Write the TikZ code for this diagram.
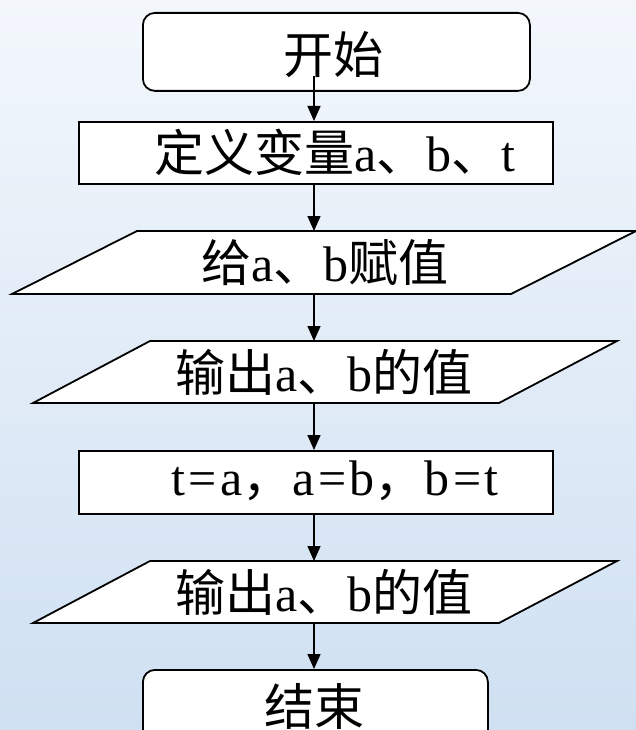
\documentclass[tikz,border=0pt]{standalone}
\usepackage{fontspec}
\setmainfont[LetterSpace=7]{Liberation Serif}
\newfontfamily\cjk{Noto Sans CJK SC}
\usetikzlibrary{arrows.meta}
\definecolor{bgtop}{HTML}{F3F7FC}
\definecolor{bgbot}{HTML}{CFE0F2}
\begin{document}
\begin{tikzpicture}[x=1pt,y=-1pt,
  shapeline/.style={draw=black, line width=1.8pt, fill=white},
  termbox/.style={shapeline, rounded corners=12pt, inner sep=0pt, anchor=north west},
  procbox/.style={shapeline, inner sep=0pt, anchor=north west},
  iobox/.style={shapeline, line join=miter},
  label/.style={font=\fontsize{50}{50}\selectfont, inner sep=0pt, anchor=center},
  flow/.style={line width=1.5pt, -{Triangle[length=15pt,width=13pt]}}]
\useasboundingbox (0,0) rectangle (636,730);
\clip (0,0) rectangle (636,730);
\shade[top color=bgtop, bottom color=bgbot] (0,0) rectangle (636,730);

% shapes
\node[termbox, minimum width=387pt, minimum height=78pt] (start) at (142,12) {};
\node[procbox, minimum width=474pt, minimum height=62pt] (define) at (78,121) {};
\draw[iobox] (12,294) -- (511,294) -- (636,231) -- (137,231) -- cycle;
\draw[iobox] (33,403) -- (499,403) -- (617,341) -- (150,341) -- cycle;
\node[procbox, minimum width=474pt, minimum height=63pt] (swap) at (78,450) {};
\draw[iobox] (33,623) -- (499,623) -- (617,561) -- (150,561) -- cycle;
\node[termbox, minimum width=345pt, minimum height=90pt] (stop) at (142,669) {};

% texts
\node[label] (t1) at (333,55) {\cjk 开始};
\node[label] (t2) at (335,152) {{\cjk 定义变量}a{\cjk 、}b{\cjk 、}t};
\node[label] (t3) at (325,263) {{\cjk 给}a{\cjk 、}b{\cjk 赋值}};
\node[label] (t4) at (324,372) {{\cjk 输出}a{\cjk 、}b{\cjk 的值}};
\node[label] (t5) at (335,481) {t=a{\cjk ，}a=b{\cjk ，}b=t};
\node[label] (t6) at (324,592) {{\cjk 输出}a{\cjk 、}b{\cjk 的值}};
\node[label] (t7) at (314,706) {\cjk 结束};

% connector end points on the axis x=314
\coordinate (a0) at (314,76);
\coordinate (a1) at (314,121);
\coordinate (a2) at (314,183);
\coordinate (a3) at (314,231);
\coordinate (a4) at (314,294);
\coordinate (a5) at (314,341);
\coordinate (a6) at (314,403);
\coordinate (a7) at (314,450);
\coordinate (a8) at (314,513);
\coordinate (a9) at (314,561);
\coordinate (a10) at (314,623);
\coordinate (a11) at (314,669);

\draw[flow] (a0) -- (a1);
\draw[flow] (a2) -- (a3);
\draw[flow] (a4) -- (a5);
\draw[flow] (a6) -- (a7);
\draw[flow] (a8) -- (a9);
\draw[flow] (a10) -- (a11);
\end{tikzpicture}
\end{document}
